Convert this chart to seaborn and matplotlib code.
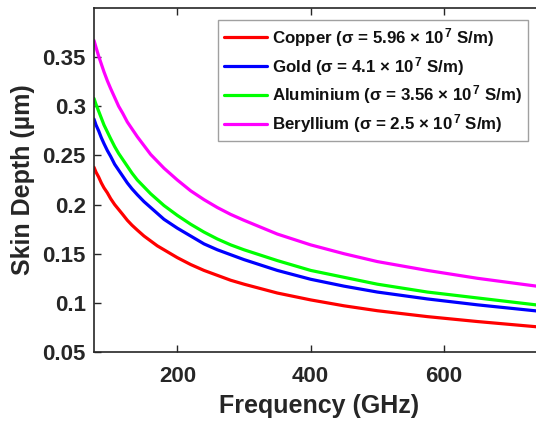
import numpy as np
import pandas as pd
import matplotlib
matplotlib.use("Agg")
import matplotlib.pyplot as plt
import seaborn as sns

# Frequencies (GHz) and skin depth (µm) for each metal
freq_ghz = [75, 78, 82, 86, 90, 95, 100, 106, 112, 118, 125, 132, 140, 150, 160,
            170, 180, 200, 220, 240, 260, 280, 300, 350, 400, 450, 500, 575, 650, 750]
copper = [0.238, 0.233, 0.228, 0.222, 0.217, 0.212, 0.206, 0.200, 0.195, 0.190,
          0.184, 0.179, 0.174, 0.168, 0.163, 0.158, 0.154, 0.146, 0.139, 0.133,
          0.128, 0.123, 0.119, 0.110, 0.103, 0.097, 0.092, 0.086, 0.081, 0.075]
gold = [0.287, 0.281, 0.275, 0.268, 0.262, 0.255, 0.249, 0.241, 0.235, 0.229,
        0.222, 0.216, 0.210, 0.203, 0.197, 0.191, 0.185, 0.176, 0.168, 0.160,
        0.154, 0.149, 0.144, 0.133, 0.124, 0.117, 0.111, 0.104, 0.098, 0.091]
aluminium = [0.308, 0.302, 0.295, 0.288, 0.281, 0.274, 0.267, 0.259, 0.252, 0.246,
             0.239, 0.232, 0.225, 0.218, 0.211, 0.205, 0.199, 0.189, 0.180, 0.172,
             0.165, 0.159, 0.154, 0.143, 0.133, 0.126, 0.119, 0.111, 0.105, 0.097]
beryllium = [0.367, 0.360, 0.351, 0.343, 0.335, 0.326, 0.318, 0.309, 0.300, 0.293,
             0.284, 0.277, 0.269, 0.260, 0.251, 0.244, 0.237, 0.225, 0.214, 0.205,
             0.197, 0.190, 0.184, 0.170, 0.159, 0.150, 0.142, 0.133, 0.125, 0.116]

labels = [
    r"Copper ($\sigma$ = 5.96 $\mathsf{\times}$ 10$^{\,7}$ S/m)",
    r"Gold ($\sigma$ = 4.1 $\mathsf{\times}$ 10$^{\,7}$ S/m)",
    r"Aluminium ($\sigma$ = 3.56 $\mathsf{\times}$ 10$^{\,7}$ S/m)",
    r"Beryllium ($\sigma$ = 2.5 $\mathsf{\times}$ 10$^{\,7}$ S/m)",
]
colors = ["#ff0000", "#0000ff", "#00ff00", "#ff00ff"]

x_ticks = [200, 400, 600]
y_ticks = [0.05, 0.1, 0.15, 0.2, 0.25, 0.3, 0.35]
y_ticklabels = ["0.05", "0.1", "0.15", "0.2", "0.25", "0.3", "0.35"]

frames = []
for lab, vals in zip(labels, [copper, gold, aluminium, beryllium]):
    frames.append(pd.DataFrame({"f": freq_ghz, "d": vals, "metal": lab}))
df = pd.concat(frames, ignore_index=True)

sns.set_theme(style="white")
ink = "#262626"
plt.rcParams.update({
    "font.family": ["Liberation Sans", "DejaVu Sans"],
    "font.weight": "bold",
    "mathtext.fontset": "custom",
    "mathtext.rm": "Liberation Sans:bold",
    "mathtext.bf": "Liberation Sans:bold",
    "mathtext.sf": "Liberation Sans",
    "mathtext.it": "Liberation Serif:italic",
    "mathtext.default": "rm",
    "axes.edgecolor": ink,
    "text.color": ink,
    "axes.labelcolor": ink,
    "xtick.color": ink,
    "ytick.color": ink,
})

fig = plt.figure(figsize=(5.36, 4.24), dpi=100)
ax = fig.add_axes([94 / 536, 72 / 424, 450 / 536, 344 / 424])

sns.lineplot(data=df, x="f", y="d", hue="metal", palette=colors,
             hue_order=labels, linewidth=2.3, ax=ax, legend=True)

ax.set_xlim(75, 750)
ax.set_ylim(0.05, 0.4)
ax.set_xticks(x_ticks)
ax.set_xticklabels([str(t) for t in x_ticks], fontsize=16, fontweight="bold")
ax.set_yticks(y_ticks)
ax.set_yticklabels(y_ticklabels, fontsize=16, fontweight="bold")
ax.tick_params(direction="in", length=5, width=1, top=True, right=False,
               bottom=True, left=True)
ax.tick_params(axis="x", pad=10)
ax.tick_params(axis="y", pad=6)
for s in ax.spines.values():
    s.set_linewidth(1.2)
    s.set_color(ink)
ax.spines["right"].set_visible(False)

ax.set_xlabel("Frequency (GHz)", fontsize=18, fontweight="bold", labelpad=5)
ax.set_ylabel("Skin Depth (µm)", fontsize=18, fontweight="bold", labelpad=5)

leg = ax.legend(loc="upper right", bbox_to_anchor=(528 / 536, 1 - 20 / 424),
                bbox_transform=fig.transFigure, fontsize=12.2,
                frameon=True, fancybox=False, edgecolor="#888888",
                handlelength=2.5, handletextpad=0.3, borderpad=0.35,
                labelspacing=0.35, borderaxespad=0)
leg.get_frame().set_linewidth(1.0)
for t in leg.get_texts():
    t.set_fontweight("bold")
    t.set_color("#111111")

fig.savefig("out.png", dpi=100)
